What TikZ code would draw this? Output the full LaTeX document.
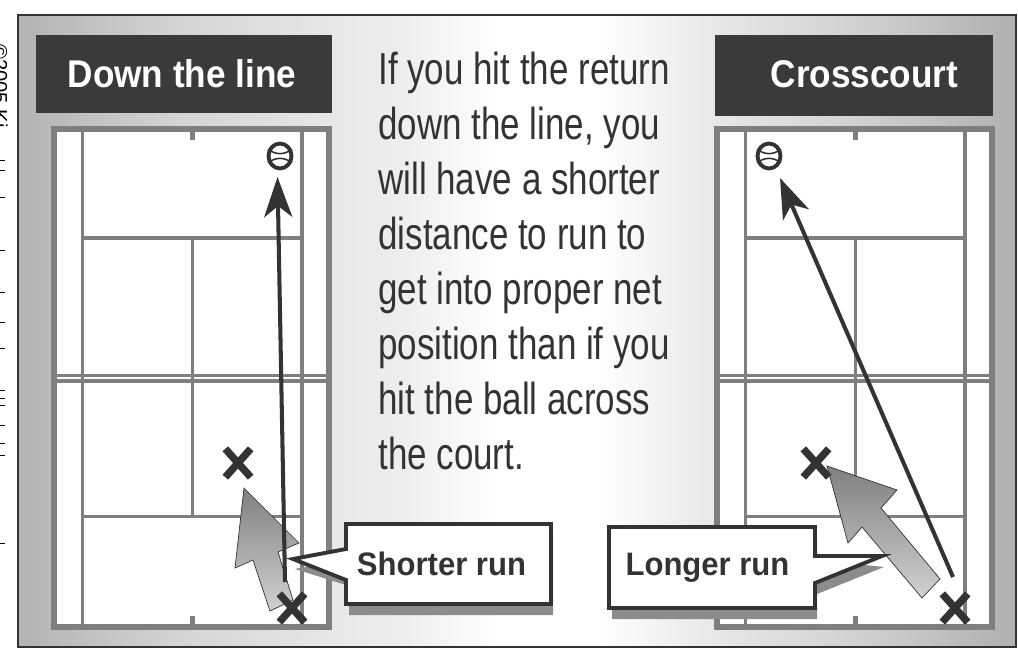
\documentclass[tikz,border=0pt]{standalone}
\usepackage{fontspec}
\setmainfont{Liberation Sans}
\newfontfamily\narrowfont[FakeStretch=0.78]{Liberation Sans}
\newfontfamily\headfont[FakeStretch=0.91]{Liberation Sans}
\newfontfamily\labelfont[FakeStretch=0.955]{Liberation Sans}
\usetikzlibrary{shapes.geometric, shapes.misc, arrows.meta}
\definecolor{ctdark}{HTML}{3A393B}
\definecolor{ctink}{HTML}{333234}
\definecolor{ctline}{HTML}{7F7F82}
\definecolor{ctshadow}{HTML}{8C8C8F}
\pgfdeclarehorizontalshading{panelshade}{100bp}{
  color(0bp)=(black!30); color(25bp)=(black!30); color(33bp)=(black!17);
  color(41bp)=(black!9); color(44bp)=(black!7); color(47bp)=(black!3); color(49bp)=(white);
  color(54bp)=(white); color(56bp)=(black!3); color(59bp)=(black!8); color(67bp)=(black!18); color(75bp)=(black!31); color(100bp)=(black!31)}
\begin{document}
\begin{tikzpicture}[x=0.02cm, y=-0.02cm,
    headerbox/.style={fill=ctdark},
    header/.style={text=white, font=\headfont\fontsize{22}{26}\selectfont\bfseries, anchor=base},
    courtline/.style={draw=ctline, line width=2pt},
    courtedge/.style={draw=ctline, line width=3.4pt},
    xmark/.style={cross out, draw=ctink, line width=4.2pt, minimum width=0.36cm, minimum height=0.42cm, inner sep=0pt},
    ball/.style={ellipse, draw=ctink, fill=white, line width=2.2pt, minimum width=0.46cm, minimum height=0.5cm, inner sep=0pt},
    seam/.style={draw=ctink, line width=0.9pt},
    shot/.style={draw=ctink, line width=2.3pt, -{Stealth[length=0.8cm, width=0.56cm, inset=0.22cm]}},
    runarrow/.style={draw=ctink, line width=0.4pt, shading angle=#1, top color=black!50, bottom color=black!18},
    callout/.style={draw=ctink, fill=white, line width=2.2pt, miter limit=20},
    calloutshadow/.style={fill=ctshadow},
    calloutlabel/.style={text=ctink, font=\labelfont\fontsize{18.5}{22}\selectfont\bfseries, anchor=base}]
  \useasboundingbox (0,0) rectangle (1018,652);
  \fill[white] (0,0) rectangle (1018,652);
  % cut off credit line in the margin
  \node[rotate=-90, anchor=base west, text=black, font=\fontsize{11.5}{14}\selectfont, inner sep=0pt] (credit) at (-7,44) {©2005 Ki};
  \foreach \ty in {160,170,197,250,292,322,348,390,398,405,425,443,455,543}
    \fill[black] (0,\ty) rectangle (5,\ty+1.2);
  % panel
  \path[shading=panelshade, draw=ctink, line width=1.2pt] (18,15) rectangle (1016,647);
  % headers
  \path[headerbox] (36,35) rectangle (332,113);
  \path[headerbox] (715,35) rectangle (993,116);
  \node[header] (down) at (182,88) {Down the line};
  \node[header] (cross) at (864.5,88) {Crosscourt};
  % courts
  \foreach \cx in {0,663} {
    \begin{scope}[xshift=\cx*0.02cm]
      \draw[courtedge, fill=white] (54,129) rectangle (329,627);
      \draw[courtline] (82.5,129) -- (82.5,627);
      \draw[courtline] (302,129) -- (302,627);
      \draw[courtline] (82.5,238) -- (302,238);
      \draw[courtline] (82.5,516.5) -- (302,516.5);
      \draw[courtline] (192.5,238) -- (192.5,516.5);
      \draw[courtline] (54,375.5) -- (329,375.5);
      \draw[courtline] (54,381) -- (329,381);
      \draw[courtline, line width=3pt] (192.5,129) -- (192.5,140);
      \draw[courtline, line width=3pt] (192.5,616) -- (192.5,627);
    \end{scope}
  }
  % balls
  \foreach \bname/\bx in {balla/280,ballb/769} {
    \node[ball] (\bname) at (\bx,156) {};
    \draw[seam] (\bname.150) to[bend right=40] (\bname.30);
    \draw[seam] (\bname.210) to[bend left=40] (\bname.330);
  }
  % run arrows
  \path[runarrow=-14] (244,488) -- (299,543) -- (278,552) -- (293,600) -- (270,611) -- (253,560) -- (235,568) -- cycle;
  \path[runarrow=-42] (827,466) -- (897,490) -- (881,508) -- (940,579) -- (922,598) -- (862,527) -- (848,543) -- cycle;
  % shots
  \coordinate (shota) at (285,582);
  \coordinate (shotb) at (953,577);
  \coordinate (tipa) at (277.5,177);
  \coordinate (tipb) at (780,178);
  \draw[shot] (shota) -- (tipa);
  \draw[shot] (shotb) -- (tipb);
  % players
  \node[xmark] (xa) at (238,463) {};
  \node[xmark] (xb) at (292,608) {};
  \node[xmark] (xc) at (816,463) {};
  \node[xmark] (xd) at (955,608) {};
  % callouts
  \fill[calloutshadow] (349,534) -- (553,534) -- (553,615) -- (349,615) -- (349,586) -- (295,569) -- (349,558) -- cycle;
  \draw[callout] (346,524) -- (551,524) -- (551,604) -- (346,604) -- (346,580) -- (293,559) -- (346,549) -- cycle;
  \node[calloutlabel] (shorter) at (441.5,575) {Shorter run};
  \fill[calloutshadow] (612,540) -- (817,540) -- (817,560) -- (884,567) -- (817,594) -- (817,619) -- (612,619) -- cycle;
  \draw[callout] (609,527) -- (815,527) -- (815,556) -- (882,556) -- (815,583) -- (815,608) -- (609,608) -- cycle;
  \node[calloutlabel] (longer) at (707.5,575) {Longer run};
  % middle text
  \node[anchor=north west, inner sep=0pt, text=ctink, align=left, font=\narrowfont\fontsize{25.5}{31.25}\selectfont] (advice) at (378,52) {If you hit the return\\down the line, you\\will have a shorter\\distance to run to\\get into proper net\\position than if you\\hit the ball across\\the court.};
\end{tikzpicture}
\end{document}
